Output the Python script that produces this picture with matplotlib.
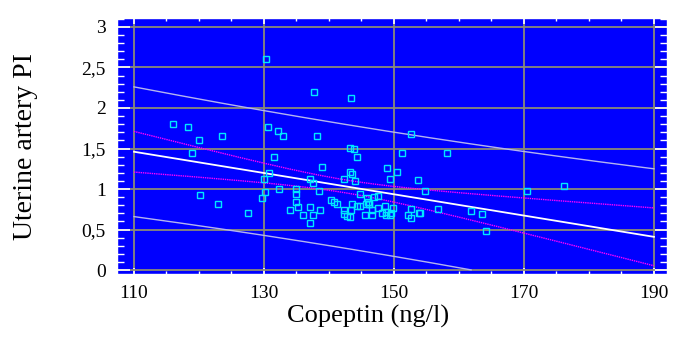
import numpy as np
import matplotlib
matplotlib.use("Agg")
import matplotlib.pyplot as plt
from matplotlib.ticker import MultipleLocator, FuncFormatter

# Copeptin (ng/l) vs uterine artery PI
copeptin = [116.0, 118.3, 120.0, 123.5, 119.0, 120.2, 122.9, 127.5, 129.7, 130.1,
            130.0, 130.8, 131.5, 130.6, 132.2, 132.9, 130.35, 137.7, 143.4, 138.2,
            143.2, 143.8, 144.3, 152.6, 151.2, 158.1, 139.0, 148.9, 150.4, 143.3,
            143.6, 137.1, 137.6, 142.3, 144.0, 149.4, 153.7, 132.3, 134.9, 134.9,
            138.4, 144.8, 145.9, 147.0, 140.3, 134.9, 135.2, 134.0, 137.1, 136.0,
            137.6, 138.6, 137.1, 140.8, 141.2, 147.5, 143.5, 144.3, 144.7, 145.7,
            146.2, 142.3, 142.3, 142.7, 143.2, 143.4, 145.5, 146.6, 146.6, 147.6,
            148.6, 148.2, 148.8, 148.8, 149.4, 149.5, 149.8, 152.2, 152.6, 152.6,
            153.8, 154.7, 154.0, 156.8, 161.8, 163.6, 164.2, 170.4, 176.2, 146.0,
            146.1]
uterine_pi = [1.80, 1.76, 1.60, 1.65, 1.45, 0.93, 0.82, 0.70, 0.89, 0.96,
              1.12, 1.20, 1.40, 1.76, 1.71, 1.65, 2.60, 2.20, 2.12, 1.65,
              1.51, 1.49, 1.40, 1.68, 1.44, 1.45, 1.27, 1.26, 1.21, 1.21,
              1.18, 1.12, 1.08, 1.12, 1.10, 1.12, 1.11, 1.00, 1.00, 0.94,
              0.98, 0.94, 0.89, 0.90, 0.87, 0.84, 0.78, 0.74, 0.78, 0.68,
              0.68, 0.74, 0.58, 0.84, 0.82, 0.91, 0.81, 0.79, 0.79, 0.82,
              0.81, 0.74, 0.69, 0.67, 0.66, 0.74, 0.68, 0.74, 0.68, 0.77,
              0.79, 0.70, 0.72, 0.68, 0.68, 0.71, 0.77, 0.68, 0.75, 0.64,
              0.70, 0.98, 0.71, 0.75, 0.73, 0.69, 0.48, 0.98, 1.04, 0.84,
              0.82]

# regression line and band parameters
intercept = 2.904
slope = -0.013125
band_scale = 0.76      # t * s
inv_n = 0.011
x_mean = 142.5
sxx = 10778.0

x_ticks = [110, 130, 150, 170, 190]
y_ticks = [0, 0.5, 1, 1.5, 2, 2.5, 3]

fig = plt.figure(figsize=(6.73, 3.47), dpi=100)
ax = fig.add_axes([0.174, 0.210, 0.817, 0.738])
ax.set_facecolor("#0000ff")

ax.set_xlim(107.4, 192.0)
ax.set_ylim(-0.05, 3.11)
ax.set_xticks(x_ticks)
ax.set_yticks(y_ticks)
ax.xaxis.set_minor_locator(MultipleLocator(5))
ax.yaxis.set_minor_locator(MultipleLocator(0.1))
ax.yaxis.set_major_formatter(FuncFormatter(lambda v, p: ("%g" % v).replace(".", ",")))
ax.grid(True, which="major", color="#8a8a78", linewidth=1.3)
ax.set_axisbelow(True)

xs = np.linspace(110, 190, 200)
fit = intercept + slope * xs
d2 = (xs - x_mean) ** 2 / sxx
conf = band_scale * np.sqrt(inv_n + d2)
pred = band_scale * np.sqrt(1 + inv_n + d2)

low_pred = fit - pred
low_pred = np.where(low_pred >= 0, low_pred, np.nan)
ax.plot(xs, fit + pred, color="#b4b4f0", linewidth=1.0)
ax.plot(xs, low_pred, color="#b4b4f0", linewidth=1.0)
ax.plot(xs, fit + conf, color="#ff00ff", linewidth=1.0, linestyle=(0, (1, 0.6)))
ax.plot(xs, fit - conf, color="#ff00ff", linewidth=1.0, linestyle=(0, (1, 0.6)))
ax.plot(xs, fit, color="white", linewidth=1.3)

ax.plot(copeptin, uterine_pi, linestyle="none", marker="s", markersize=3.8,
        markerfacecolor="none", markeredgecolor="#00e8ff", markeredgewidth=1.0)

for s in ax.spines.values():
    s.set_color("white")
    s.set_linewidth(1.0)

ax.tick_params(which="both", direction="in", colors="white", left=True, right=True,
               top=True, bottom=True, labelcolor="black")
ax.tick_params(which="major", length=9, width=1.2, pad=8, labelsize=14)
ax.tick_params(axis="y", which="minor", length=5, width=1.0)
ax.tick_params(axis="x", which="minor", length=2.5, width=1.0)
ax.tick_params(axis="x", which="major", length=4)
for lab in ax.get_xticklabels() + ax.get_yticklabels():
    lab.set_fontfamily("Liberation Serif")

ax.set_xlabel("Copeptin (ng/l)", fontsize=19, family="Liberation Serif")
ax.set_ylabel("Uterine artery PI", fontsize=20, family="Liberation Serif")
ax.xaxis.set_label_coords(0.456, -0.12)
ax.yaxis.set_label_coords(-0.143, 0.5)

plt.savefig("out.png", dpi=100)
